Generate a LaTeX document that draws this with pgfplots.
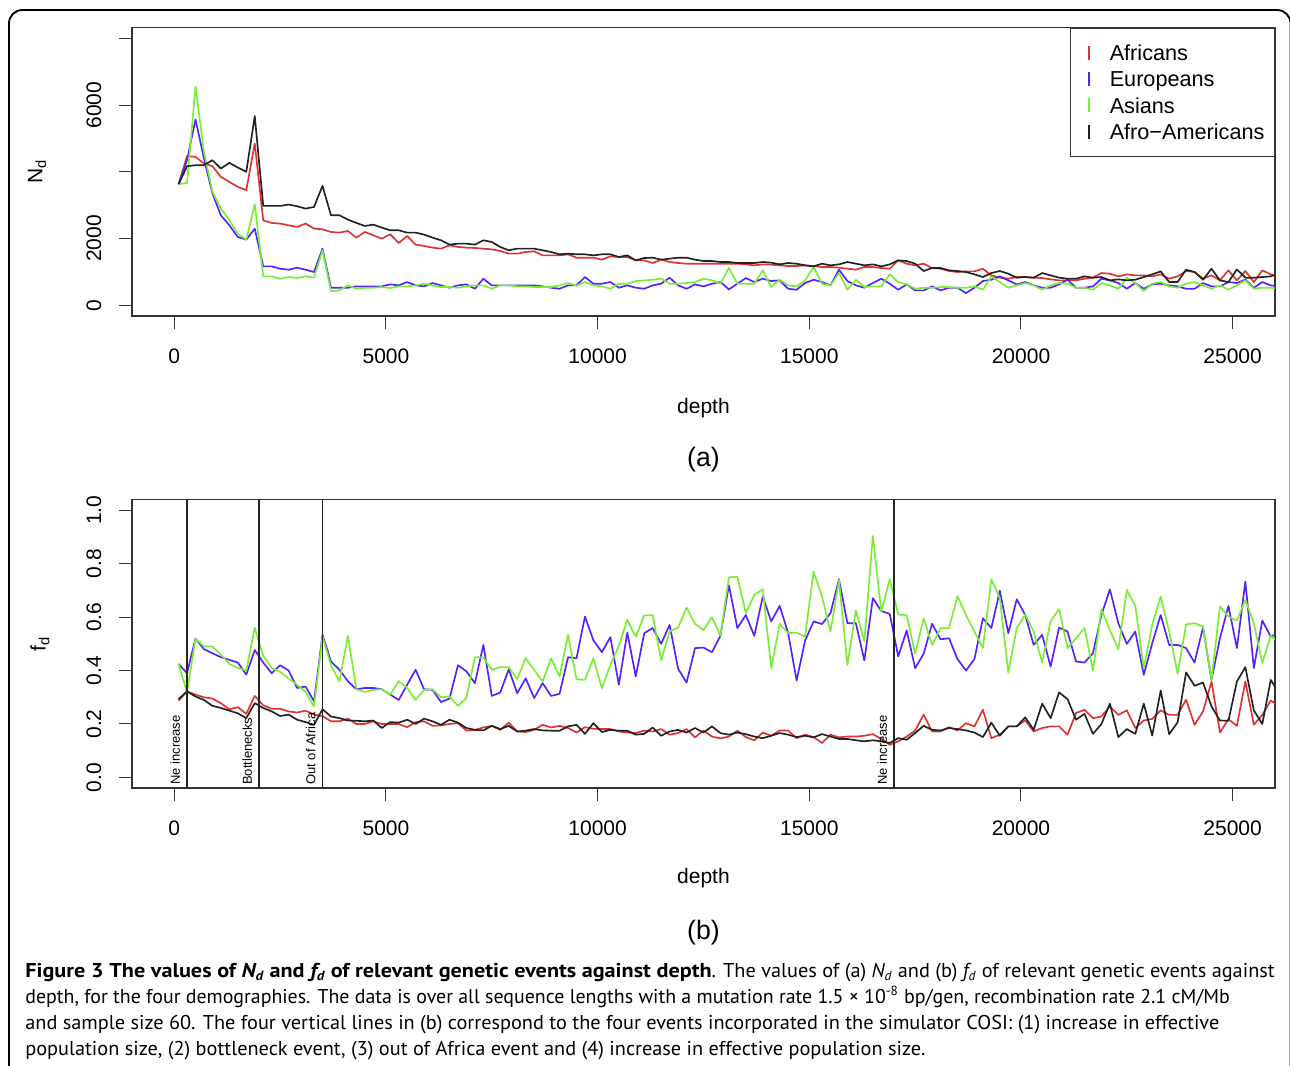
\documentclass[border=0pt]{standalone}
\usepackage{fontspec}
\setmainfont{Liberation Sans}
\newfontfamily\capfont[FakeStretch=1.015]{PT Sans}
\newfontfamily\capbold[FakeStretch=1.11]{PT Sans}
\usepackage{pgfplots}
\usepackage{pgfplotstable}
\pgfplotsset{compat=1.18}

\definecolor{afr}{HTML}{DD3333}
\definecolor{eur}{HTML}{5522FF}
\definecolor{asi}{HTML}{77EE33}
\definecolor{aam}{HTML}{222222}

% N_d against depth
\pgfplotstableread{
depth afr eur asi aam
100 3630 3630 3630 3630
300 4470 4350 3670 4170
500 4450 5570 6550 4200
700 4250 4400 4600 4200
900 4170 3350 3400 4350
1100 3850 2700 2900 4100
1300 3700 2400 2550 4270
1500 3550 2050 2150 4130
1700 3450 1970 1970 4000
1900 4850 2300 3030 5670
2100 2550 1170 870 2980
2300 2470 1170 870 2980
2500 2450 1100 800 2980
2700 2400 1070 850 3020
2900 2350 1130 820 2970
3100 2450 1070 870 2900
3300 2300 1000 830 2950
3500 2280 1700 1650 3580
3700 2200 530 430 2700
3900 2180 530 450 2700
4100 2230 530 600 2570
4300 2030 570 500 2470
4500 2200 570 530 2380
4700 2100 570 530 2420
4900 2000 570 550 2330
5100 2130 630 520 2250
5300 1870 600 570 2250
5500 2080 700 570 2180
5700 1820 600 600 2180
5900 1780 570 650 2120
6100 1730 670 600 2030
6300 1700 600 550 1950
6500 1800 530 550 1820
6700 1750 600 530 1850
6900 1730 630 570 1850
7100 1720 500 600 1820
7300 1700 800 600 1950
7500 1680 600 500 1900
7700 1630 600 600 1750
7900 1550 600 600 1650
8100 1550 600 570 1700
8300 1600 600 570 1700
8500 1620 600 550 1700
8700 1500 570 550 1650
8900 1500 530 550 1600
9100 1500 500 600 1530
9300 1530 600 670 1550
9500 1430 600 590 1530
9700 1430 850 700 1530
9900 1430 650 600 1500
10100 1370 650 570 1530
10300 1470 700 500 1530
10500 1450 530 650 1450
10700 1450 600 650 1500
10900 1350 530 730 1350
11100 1350 500 750 1420
11300 1270 600 770 1430
11500 1370 650 800 1370
11700 1300 830 650 1400
11900 1270 600 650 1430
12100 1250 500 670 1430
12300 1250 630 700 1370
12500 1250 570 800 1330
12700 1250 650 750 1330
12900 1250 700 650 1300
13100 1250 480 1130 1300
13300 1250 650 650 1270
13500 1230 820 650 1270
13700 1200 700 650 1270
13900 1230 800 1050 1300
14100 1220 730 550 1280
14300 1200 750 770 1230
14500 1180 500 600 1270
14700 1180 470 570 1250
14900 1200 670 750 1200
15100 1180 770 1150 1170
15300 1150 700 650 1250
15500 1150 600 600 1200
15700 1130 1070 970 1230
15900 1100 730 470 1300
16100 1070 600 770 1250
16300 1150 530 550 1200
16500 1150 670 570 1230
16700 1120 800 570 1170
16900 1100 650 930 1230
17100 1350 470 700 1350
17300 1250 630 630 1330
17500 1200 450 500 1250
17700 1250 450 530 1030
17900 1120 570 530 1120
18100 1100 450 550 1120
18300 1030 530 550 1050
18500 1000 530 530 1030
18700 1020 370 530 1000
18900 1020 530 570 930
19100 1100 730 470 850
19300 900 770 870 970
19500 830 870 700 1030
19700 800 750 530 950
19900 850 630 600 830
20100 850 700 670 850
20300 830 600 600 830
20500 820 530 470 970
20700 780 530 600 900
20900 750 630 670 830
21100 750 770 650 800
21300 750 530 530 800
21500 800 530 530 870
21700 830 570 470 830
21900 970 800 670 850
22100 950 750 600 750
22300 870 670 500 780
22500 930 500 830 750
22700 900 670 670 770
22900 900 500 430 850
23100 870 630 650 930
23300 930 650 700 1020
23500 800 600 570 700
23700 870 570 530 700
23900 1030 500 650 1070
24100 1000 500 700 1000
24300 800 670 600 770
24500 900 570 500 1100
24700 750 570 600 750
24900 1050 700 470 700
25100 750 670 600 1080
25300 1030 770 750 830
25500 700 530 500 830
25700 1050 700 530 850
25900 930 600 530 870
26100 850 570 500 970
}\ndtable

% f_d against depth
\pgfplotstableread{
depth afr eur asi aam
100 0.287 0.425 0.425 0.293
300 0.322 0.390 0.318 0.322
500 0.310 0.520 0.520 0.303
700 0.300 0.480 0.490 0.290
900 0.295 0.465 0.490 0.268
1100 0.278 0.450 0.460 0.260
1300 0.255 0.440 0.425 0.250
1500 0.263 0.430 0.410 0.240
1700 0.238 0.385 0.400 0.222
1900 0.305 0.477 0.560 0.278
2100 0.270 0.430 0.455 0.260
2300 0.257 0.390 0.410 0.247
2500 0.257 0.420 0.395 0.230
2700 0.247 0.400 0.370 0.235
2900 0.243 0.335 0.347 0.216
3100 0.250 0.340 0.320 0.207
3300 0.235 0.285 0.266 0.197
3500 0.230 0.534 0.527 0.255
3700 0.210 0.434 0.420 0.228
3900 0.210 0.403 0.360 0.222
4100 0.220 0.360 0.530 0.213
4300 0.200 0.330 0.330 0.212
4500 0.200 0.335 0.320 0.210
4700 0.210 0.335 0.328 0.213
4900 0.200 0.330 0.330 0.185
5100 0.200 0.310 0.310 0.207
5300 0.200 0.290 0.360 0.205
5500 0.188 0.347 0.335 0.216
5700 0.207 0.403 0.290 0.200
5900 0.210 0.330 0.328 0.220
6100 0.193 0.328 0.330 0.210
6300 0.195 0.282 0.300 0.197
6500 0.200 0.295 0.303 0.216
6700 0.203 0.420 0.268 0.205
6900 0.175 0.397 0.297 0.185
7100 0.178 0.353 0.450 0.178
7300 0.187 0.496 0.449 0.176
7500 0.193 0.305 0.403 0.193
7700 0.178 0.318 0.413 0.181
7900 0.205 0.405 0.413 0.193
8100 0.172 0.315 0.368 0.172
8300 0.170 0.371 0.446 0.175
8500 0.178 0.297 0.403 0.181
8700 0.197 0.353 0.359 0.176
8900 0.187 0.305 0.446 0.175
9100 0.193 0.313 0.378 0.175
9300 0.185 0.450 0.534 0.191
9500 0.168 0.446 0.368 0.197
9700 0.188 0.602 0.365 0.163
9900 0.182 0.513 0.446 0.203
10100 0.181 0.469 0.334 0.170
10300 0.181 0.525 0.421 0.178
10500 0.172 0.347 0.492 0.175
10700 0.168 0.542 0.590 0.175
10900 0.166 0.378 0.527 0.160
11100 0.175 0.540 0.606 0.163
11300 0.172 0.559 0.608 0.187
11500 0.181 0.500 0.438 0.156
11700 0.160 0.571 0.546 0.172
11900 0.166 0.407 0.561 0.178
12100 0.181 0.355 0.636 0.168
12300 0.150 0.484 0.575 0.185
12500 0.175 0.486 0.552 0.168
12700 0.153 0.469 0.600 0.191
12900 0.146 0.530 0.530 0.166
13100 0.153 0.720 0.749 0.160
13300 0.175 0.559 0.752 0.168
13500 0.151 0.608 0.615 0.162
13700 0.139 0.530 0.683 0.153
13900 0.168 0.677 0.704 0.147
14100 0.156 0.584 0.409 0.156
14300 0.176 0.642 0.575 0.166
14500 0.175 0.540 0.540 0.160
14700 0.147 0.363 0.542 0.151
14900 0.160 0.512 0.527 0.156
15100 0.151 0.584 0.770 0.150
15300 0.129 0.574 0.677 0.162
15500 0.160 0.615 0.546 0.153
15700 0.150 0.742 0.739 0.144
15900 0.153 0.577 0.421 0.144
16100 0.153 0.577 0.625 0.139
16300 0.156 0.438 0.509 0.135
16500 0.162 0.671 0.904 0.139
16700 0.144 0.623 0.620 0.135
16900 0.122 0.612 0.742 0.129
17100 0.135 0.453 0.610 0.147
17300 0.153 0.550 0.607 0.141
17500 0.175 0.409 0.463 0.166
17700 0.235 0.463 0.595 0.193
17900 0.172 0.575 0.495 0.178
18100 0.172 0.517 0.559 0.176
18300 0.188 0.521 0.559 0.185
18500 0.176 0.443 0.679 0.181
18700 0.203 0.400 0.607 0.176
18900 0.191 0.443 0.546 0.168
19100 0.253 0.596 0.484 0.151
19300 0.147 0.559 0.742 0.205
19500 0.160 0.699 0.671 0.156
19700 0.191 0.540 0.393 0.191
19900 0.191 0.667 0.559 0.191
20100 0.214 0.608 0.610 0.225
20300 0.172 0.496 0.546 0.178
20500 0.185 0.534 0.430 0.276
20700 0.191 0.415 0.584 0.222
20900 0.191 0.561 0.631 0.318
21100 0.160 0.546 0.484 0.293
21300 0.241 0.434 0.521 0.216
21500 0.253 0.430 0.559 0.238
21700 0.222 0.465 0.400 0.163
21900 0.228 0.608 0.629 0.200
22100 0.266 0.704 0.552 0.276
22300 0.234 0.577 0.480 0.151
22500 0.251 0.500 0.702 0.181
22700 0.185 0.546 0.642 0.163
22900 0.213 0.384 0.409 0.276
23100 0.219 0.502 0.571 0.157
23300 0.251 0.608 0.677 0.325
23500 0.234 0.496 0.546 0.162
23700 0.234 0.496 0.388 0.206
23900 0.291 0.484 0.573 0.393
24100 0.197 0.430 0.577 0.343
24300 0.247 0.562 0.565 0.355
24500 0.359 0.365 0.365 0.266
24700 0.168 0.521 0.640 0.213
24900 0.218 0.642 0.602 0.212
25100 0.193 0.484 0.587 0.359
25300 0.359 0.733 0.664 0.413
25500 0.197 0.409 0.577 0.251
25700 0.234 0.587 0.428 0.200
25900 0.288 0.527 0.530 0.365
26100 0.268 0.542 0.505 0.315
}\fdtable

\newcommand{\rfont}{\fontsize{12.6}{14}\selectfont}

\pgfplotsset{
  rpanel/.style={
    scale only axis, width=685.8pt, height=173.1pt,
    xmin=-1000, xmax=26000,
    axis line style={black!80, line width=0.8pt},
    tick align=outside, xtick pos=bottom, ytick pos=left,
    major tick length=7.8pt,
    every tick/.style={black!80, line width=0.6pt},
    scaled x ticks=false,
    xtick={0,5000,10000,15000,20000,25000},
    xticklabels={0,5000,10000,15000,20000,25000},
    tick label style={font=\rfont},
    xticklabel style={anchor=north, inner sep=0pt},
    xticklabel shift=11.8pt,
    yticklabel style={rotate=90, anchor=south, inner sep=0pt},
    yticklabel shift=10.4pt,
    label style={font=\rfont},
    xlabel={depth},
    every axis plot/.append style={line width=1pt, line join=round, mark=none},
  }
}

\begin{document}
\begin{tikzpicture}[x=0.6pt, y=0.6pt]
\useasboundingbox (0,0) rectangle (1290,-1066);
\draw[line width=1.1pt, rounded corners=8pt] (9,-10) rectangle (1290.5,-1100);

% (a) N_d
\begin{axis}[rpanel,
  at={(79.2pt,-16.56pt)}, anchor=north west,
  ymin=-320, ymax=8320,
  ytick={0,2000,4000,6000,8000},
  yticklabels={0,2000,,6000,},
  ylabel={N\textsubscript{d}},
  xlabel style={at={(axis description cs:0.5,-0.318)}, anchor=center},
  ylabel style={at={(axis description cs:-0.083,0.5)}, anchor=center},
  legend cell align=left,
  legend style={at={(1,1)}, anchor=north east, draw=black!80, line width=0.6pt,
    font=\fontsize{13}{13}\selectfont, inner xsep=5pt, inner ysep=9pt,
    row sep=4.4pt, nodes={inner sep=1pt, text height=9.4pt, text depth=0pt},
    /tikz/every odd column/.append style={column sep=10.6pt}},
  legend image code/.code={\path (-6pt,0pt);
    \draw[#1, line width=1.2pt] (0pt,-4.2pt) -- (0pt,4.2pt);},
]
\addplot[afr] table[x=depth, y=afr] {\ndtable};
\addlegendentry{Africans}
\addplot[eur] table[x=depth, y=eur] {\ndtable};
\addlegendentry{Europeans}
\addplot[asi] table[x=depth, y=asi] {\ndtable};
\addlegendentry{Asians}
\addplot[aam] table[x=depth, y=aam] {\ndtable};
\addlegendentry{Afro−Americans}
\end{axis}

% (b) f_d
\begin{axis}[rpanel,
  at={(79.2pt,-299.76pt)}, anchor=north west,
  ymin=-0.04, ymax=1.04,
  ytick={0,0.2,0.4,0.6,0.8,1.0},
  yticklabels={0.0,0.2,0.4,0.6,0.8,1.0},
  ylabel={f\textsubscript{d}},
  xlabel style={at={(axis description cs:0.5,-0.312)}, anchor=center},
  ylabel style={at={(axis description cs:-0.0805,0.5)}, anchor=center},
]
\addplot[afr] table[x=depth, y=afr] {\fdtable};
\addplot[eur] table[x=depth, y=eur] {\fdtable};
\addplot[asi] table[x=depth, y=asi] {\fdtable};
\addplot[aam] table[x=depth, y=aam] {\fdtable};
\foreach \ev/\txt in {300/Ne increase, 2000/Bottlenecks, 3500/Out of Africa, 17000/Ne increase}{
  \edef\temp{\noexpand\draw[black!85, line width=0.9pt] (axis cs:\ev,-0.04) -- (axis cs:\ev,1.04);}\temp
  \edef\temp{\noexpand\node[rotate=90, anchor=south west, inner xsep=1pt, inner ysep=4pt,
    font=\noexpand\fontsize{7.8}{8}\noexpand\selectfont] at (axis cs:\ev,-0.035) {\txt};}\temp
}
\end{axis}

\node[font=\fontsize{16}{18}\selectfont] at (703.5,-460) {(a)};
\node[font=\fontsize{16}{18}\selectfont] at (703.5,-933) {(b)};

\begin{scope}[every node/.style={anchor=base west, inner sep=0pt,
    font=\capfont\fontsize{12}{14}\selectfont}]
\node at (25,-977) {{\capbold\bfseries Figure 3 The values of \textit{N\textsubscript{d}} and \textit{f\textsubscript{d}} of relevant genetic events against depth}. The values of (a) \textit{N\textsubscript{d}} and (b) \textit{f\textsubscript{d}} of relevant genetic events against};
\node at (25,-1003) {\scalebox{0.98}[1]{depth, for the four demographies. The data is over all sequence lengths with a mutation rate 1.5 × 10\textsuperscript{-8} bp/gen, recombination rate 2.1 cM/Mb}};
\node at (25,-1029) {and sample size 60. The four vertical lines in (b) correspond to the four events incorporated in the simulator COSI: (1) increase in effective};
\node at (25,-1055) {population size, (2) bottleneck event, (3) out of Africa event and (4) increase in effective population size.};
\end{scope}
\end{tikzpicture}
\end{document}
